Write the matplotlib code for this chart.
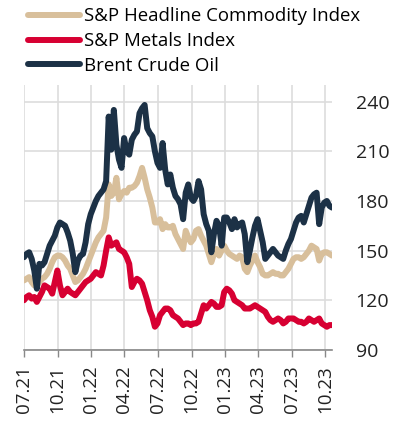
import matplotlib
matplotlib.use("Agg")
import matplotlib.pyplot as plt
import matplotlib.dates as mdates
import numpy as np
import pandas as pd

plt.rcParams['font.family'] = ['Open Sans', 'DejaVu Sans']

# weekly observations starting 2021-07-01
start = "2021-07-01"

commodity = [132, 133, 134, 131, 129, 129, 131, 133, 134, 136, 139, 143, 146, 147, 147, 146,
             144, 141, 139, 135, 131, 132, 134, 136, 139, 143, 147, 151, 155, 158, 160, 162,
             170, 190, 183, 185, 194, 181, 184, 186, 185, 188, 188, 189, 191, 195, 200, 194,
             187, 182, 176, 167, 167, 169, 163, 166, 164, 164, 165, 160, 157, 154, 151, 162,
             158, 155, 157, 162, 163, 159, 156, 153, 148, 143, 148, 151, 147, 150, 153, 150,
             148, 147, 146, 145, 147, 146, 139, 137, 141, 144, 147, 143, 140, 136, 135, 135,
             136, 137, 136, 136, 135, 135, 137, 139, 142, 145, 146, 146, 145, 146, 148, 150,
             153, 152, 151, 144, 148, 149, 149, 148, 147]

metals = [120, 122, 123, 121, 122, 119, 122, 125, 129, 128, 127, 124, 131, 138, 129, 123,
          125, 127, 125, 124, 123, 125, 127, 129, 131, 132, 133, 135, 137, 136, 135, 141,
          150, 158, 153, 154, 155, 151, 150, 149, 146, 142, 128, 131, 133, 132, 130, 125,
          120, 114, 110, 104, 106, 111, 113, 115, 115, 114, 111, 110, 109, 107, 105, 106,
          106, 105, 106, 106, 107, 112, 117, 115, 117, 119, 118, 116, 116, 117, 125, 127,
          126, 124, 120, 119, 118, 117, 115, 115, 115, 116, 117, 116, 115, 114, 113, 110,
          108, 107, 108, 109, 108, 106, 107, 109, 109, 109, 108, 107, 107, 106, 107, 109,
          108, 107, 108, 109, 106, 105, 104, 105, 105]

brent = [146, 148, 149, 145, 138, 127, 142, 141, 143, 148, 153, 156, 159, 164, 167, 166,
         165, 161, 156, 148, 137, 144, 147, 148, 155, 166, 172, 176, 180, 183, 185, 187,
         192, 231, 211, 235, 214, 205, 200, 218, 210, 208, 217, 220, 222, 233, 236, 238,
         224, 221, 219, 210, 203, 200, 215, 199, 190, 196, 188, 183, 181, 178, 169, 185,
         190, 182, 180, 183, 192, 187, 172, 166, 162, 149, 160, 168, 165, 153, 170, 170,
         167, 163, 169, 164, 166, 167, 160, 143, 150, 158, 165, 169, 162, 155, 145, 147,
         149, 151, 149, 147, 146, 145, 150, 154, 157, 162, 167, 170, 171, 167, 172, 177,
         182, 184, 185, 166, 176, 179, 180, 177, 176]

labels = ["S&P Headline Commodity Index", "S&P Metals Index", "Brent Crude Oil"]
colors = ["#D8BF9B", "#D70032", "#1C3146"]

dates = pd.date_range(start, periods=len(brent), freq="7D")
ticks = pd.date_range("2021-07-01", "2023-10-01", freq="QS-JUL")

fig = plt.figure(figsize=(4, 4.32), dpi=100)
ax = fig.add_axes([0.06, 0.19, 0.77, 0.613])

for series, lab, col in zip([commodity, metals, brent], labels, colors):
    ax.plot(dates, series, color=col, lw=4.3, label=lab, solid_capstyle="round", zorder=3)

ax.set_ylim(90, 250)
ax.set_yticks([90, 120, 150, 180, 210, 240])
ax.set_xlim(dates[0], dates[-1])
ax.set_xticks(ticks)
ax.xaxis.set_major_formatter(mdates.DateFormatter("%m.%y"))

ax.yaxis.tick_right()
ax.tick_params(axis="y", length=0, pad=17, labelsize=14, colors="#222222")
ax.tick_params(axis="x", length=5, width=1, color="#888888", rotation=90,
               labelsize=13.5, labelcolor="#222222", pad=6)
for lbl in ax.get_xticklabels():
    lbl.set_verticalalignment("top")

ax.grid(True, color="#DDDDDD", lw=1.2, zorder=0)
for s in ["top", "left", "right"]:
    ax.spines[s].set_visible(False)
ax.spines["bottom"].set_color("#888888")
ax.spines["bottom"].set_linewidth(1.2)

leg = fig.legend(loc="upper left", bbox_to_anchor=(0.065, 0.987), frameon=False,
                 fontsize=13.4, handlelength=2.8, handletextpad=0.2,
                 labelspacing=0.36, borderaxespad=0.1, borderpad=0)
for h in leg.get_lines():
    h.set_linewidth(4.3)

fig.savefig("out.png", dpi=100)
